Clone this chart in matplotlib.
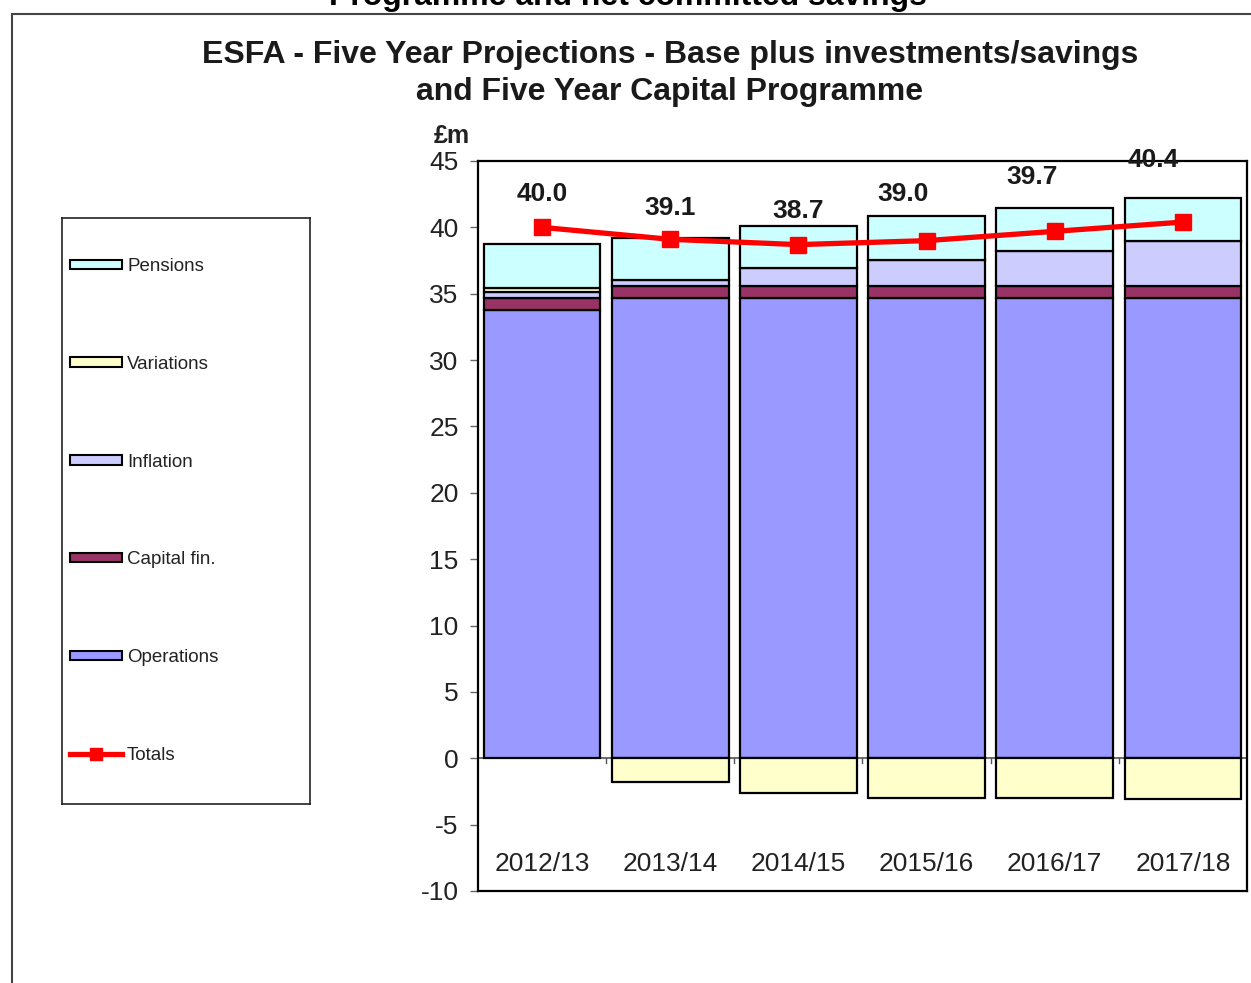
import matplotlib
matplotlib.use("Agg")
import matplotlib.pyplot as plt
import numpy as np
from matplotlib.patches import Patch, Rectangle
from matplotlib.lines import Line2D

plt.rcParams['font.family'] = ['Liberation Sans', 'DejaVu Sans']

# data (£m)
years = ['2012/13', '2013/14', '2014/15', '2015/16', '2016/17', '2017/18']
operations = [33.8, 34.7, 34.7, 34.7, 34.7, 34.7]
capital_fin = [0.9, 0.85, 0.9, 0.9, 0.9, 0.9]
inflation = [0.4, 0.45, 1.35, 1.95, 2.6, 3.4]
variations = [0.3, -1.75, -2.65, -3.0, -3.0, -3.1]
pensions = [3.35, 3.2, 3.15, 3.3, 3.25, 3.25]
totals = [40.0, 39.1, 38.7, 39.0, 39.7, 40.4]

# where the total labels sit
label_y = [42.5, 41.45, 41.2, 42.5, 43.8, 45.1]
label_dx = [0, 0, 0, -0.18, -0.18, -0.23]

series = [('Operations', operations, '#9999FF'),
          ('Capital fin.', capital_fin, '#993366'),
          ('Inflation', inflation, '#CCCCFF'),
          ('Variations', variations, '#FFFFCC'),
          ('Pensions', pensions, '#CCFFFF')]

W, H = 1251, 983
fig = plt.figure(figsize=(W / 100, H / 100), dpi=100)
ax = fig.add_axes([478 / W, 1 - 891 / H, 769 / W, 730 / H])

x = np.arange(len(years))
pos_base = np.zeros(len(years))
neg_base = np.zeros(len(years))
for name, vals, col in series:
    v = np.array(vals)
    bottom = np.where(v >= 0, pos_base, neg_base)
    ax.bar(x, v, bottom=bottom, width=0.91, color=col, edgecolor='black',
           linewidth=1.6, zorder=2)
    pos_base += np.where(v >= 0, v, 0)
    neg_base += np.where(v < 0, v, 0)

ax.plot(x, totals, color='#FF0000', lw=3.8, marker='s', ms=11, zorder=4)
for i, t in enumerate(totals):
    ax.text(i + label_dx[i], label_y[i], f'{t:.1f}', ha='center', va='center',
            fontsize=19, fontweight='bold', color='#1a1a1a', clip_on=False, zorder=5)

# category axis crossing at zero
ax.axhline(0, color='#555555', lw=1.2, zorder=1)
for b in x[:-1] + 0.5:
    ax.plot([b, b], [0, -0.35], color='#555555', lw=1, zorder=1)

yticks = np.arange(-10, 46, 5)
ax.set_xlim(-0.5, len(years) - 0.5)
ax.set_ylim(-10, 45)
ax.set_yticks(yticks)
ax.set_yticklabels([str(t) for t in yticks])
ax.set_xticks(x)
ax.set_xticklabels(years)
ax.tick_params(axis='x', length=0, pad=-28, labelsize=19, labelcolor='#222222')
ax.tick_params(axis='y', length=6, width=1, color='#666666', labelsize=19,
               labelcolor='#222222', pad=8)
for s in ax.spines.values():
    s.set_linewidth(1.6)
    s.set_color('black')

ax.text(-0.034, 1.034, '£m', transform=ax.transAxes, ha='center', va='center',
        fontsize=18, fontweight='bold', color='#222222')

# titles
fig.text(0.5356, 1 - 55 / H, 'ESFA - Five Year Projections - Base plus investments/savings',
         ha='center', va='center', fontsize=23, fontweight='bold', color='#1a1a1a')
fig.text(0.5356, 1 - 92 / H, 'and Five Year Capital Programme',
         ha='center', va='center', fontsize=23, fontweight='bold', color='#1a1a1a')
fig.text(628 / W, 1 - 5 / H, 'Programme and net committed savings',
         ha='center', va='baseline', fontsize=23, fontweight='bold', color='black')

# outer chart frame
fig.add_artist(Rectangle((12 / W, -0.1), 1.2, 1 - 14 / H + 0.1, transform=fig.transFigure,
                         fill=False, edgecolor='#444444', lw=1.5))

# legend in its own framed box
lax = fig.add_axes([62 / W, 1 - 804 / H, 248 / W, 586 / H])
lax.set_xticks([])
lax.set_yticks([])
for s in lax.spines.values():
    s.set_linewidth(1.2)
    s.set_color('#222222')
handles = [Patch(facecolor=col, edgecolor='black', lw=1.5) for _, _, col in series[::-1]]
handles.append(Line2D([], [], color='#FF0000', lw=3.8, marker='s', ms=9))
labels = [name for name, _, _ in series[::-1]] + ['Totals']
lax.legend(handles, labels, loc='center left', frameon=False, fontsize=13.5,
           handlelength=2.8, handleheight=0.4, handletextpad=0.25,
           labelspacing=4.31, borderpad=0, borderaxespad=0.42, labelcolor='#222222')

fig.savefig('out.png', dpi=100)
